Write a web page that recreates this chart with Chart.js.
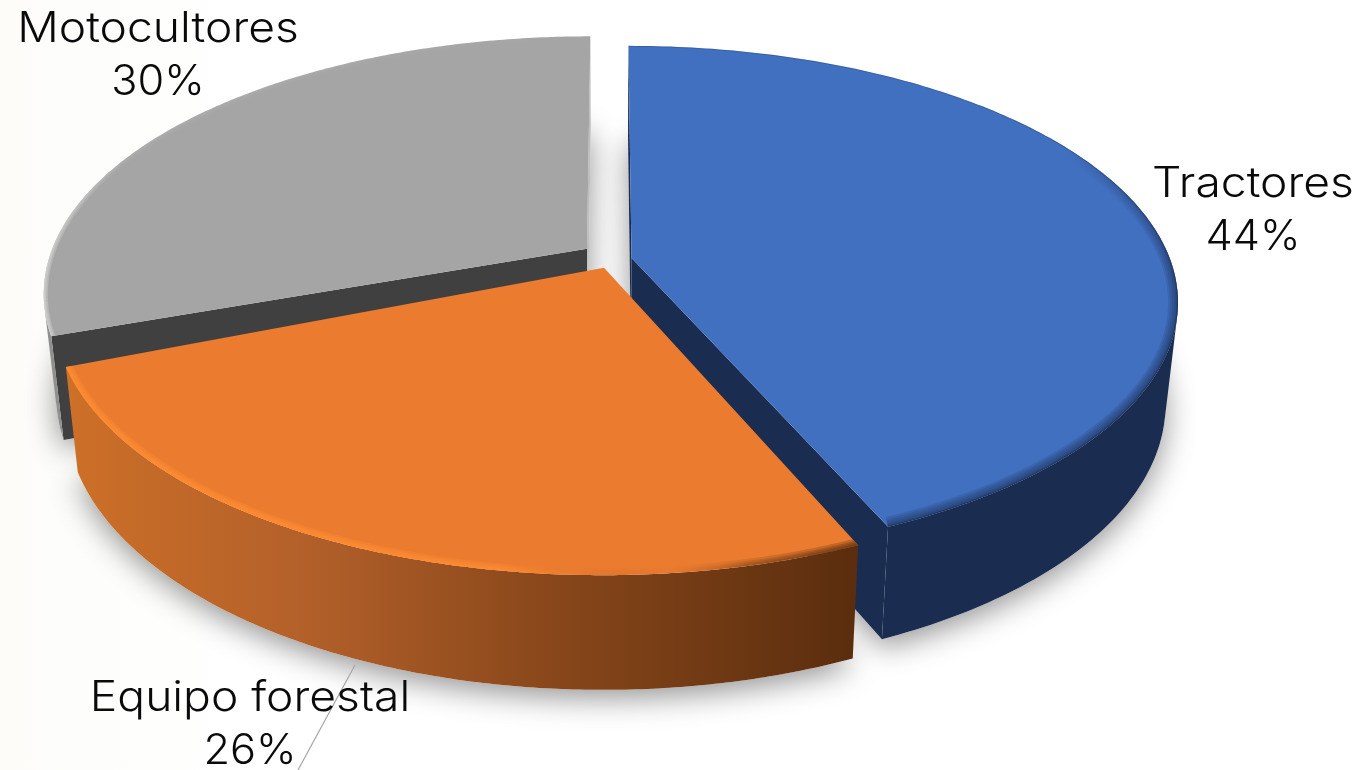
<!DOCTYPE html>
<html>
<head>
<meta charset="utf-8">
<title>Maquinaria</title>
<script src="https://cdn.jsdelivr.net/npm/chart.js@4"></script>
<style>
  html, body { margin: 0; padding: 0; background: #fff; overflow: hidden; }
  #wrap { width: 1361px; height: 770px; background: linear-gradient(90deg, #fdfcf9 0, #fdfdfb 90px, #fff 240px); }
</style>
</head>
<body>
<div id="wrap"><canvas id="pie" width="1361" height="770"></canvas></div>
<script>
var categories = ['Tractores', 'Equipo forestal', 'Motocultores'];
var shares = [43.5, 26.1, 30.4];
var topColors = ['#4170c1', '#ea7b2f', '#a5a5a5'];

// ground plane -> screen, a circle seen in perspective
var view = { ax: 610, ay: 255, rx: 537, ry: 250.5, k: 0.17, depth: 100, shrink: 0.978 };

function project(X, Z, low) {
  var w = 1 - view.k * Z;
  var s = low ? view.shrink : 1;
  return [view.ax + view.rx * s * X / w, view.ay + (view.ry * s * Z + (low ? view.depth : 0)) / w];
}

function tracePath(ctx, pts) {
  ctx.beginPath();
  pts.forEach(function(p, i) { if (i) ctx.lineTo(p[0], p[1]); else ctx.moveTo(p[0], p[1]); });
  ctx.closePath();
}

function lineGrad(ctx, v, stops) {
  var g = ctx.createLinearGradient(v[0], v[1], v[2], v[3]);
  stops.forEach(function(s) { g.addColorStop(s[0], s[1]); });
  return g;
}

function faces(a, b, c, d) {
  var q = [a, b, c, d], area = 0;
  q.forEach(function(p, h) {
    var r = q[(h + 1) % 4];
    area += p[0] * r[1] - r[0] * p[1];
  });
  return area < 0;
}

var pie3d = {
  id: 'pie3d',
  beforeDatasetDraw: function() { return false; },
  afterDatasetsDraw: function(chart, args, opts) {
    var ctx = chart.ctx;
    var arcs = chart.getDatasetMeta(0).data;
    var slices = arcs.map(function(arc, i) {
      var off = opts.explode[i], n = 180, rim = [];
      var end = arc.endAngle - opts.trim[i];
      for (var j = 0; j <= n; j++) {
        var t = arc.startAngle + (end - arc.startAngle) * j / n;
        rim.push([off[0] + Math.cos(t), off[1] + off[2] * Math.sin(t)]);
      }
      var ground = [[off[0], off[1]]].concat(rim);
      return {
        top: ground.map(function(p) { return project(p[0], p[1], false); }),
        low: ground.map(function(p) { return project(p[0], p[1], true); })
      };
    });

    // soft shadow under the whole body
    ctx.save();
    ctx.shadowColor = 'rgba(0,0,0,0.42)';
    ctx.shadowBlur = 30;
    ctx.shadowOffsetY = 8;
    ctx.fillStyle = '#fff';
    slices.forEach(function(s) { tracePath(ctx, s.low); ctx.fill(); });
    ctx.restore();

    opts.order.forEach(function(idx) {
      var s = slices[idx], pts = s.top, low = s.low, m = pts.length;
      var xs = pts.map(function(p) { return p[0]; });
      var x0 = Math.min.apply(null, xs), x1 = Math.max.apply(null, xs);

      // radial cut faces
      if (faces(pts[0], pts[1], low[1], low[0])) {
        ctx.fillStyle = opts.radialStart[idx];
        tracePath(ctx, [pts[0], pts[1], low[1], low[0]]);
        ctx.fill();
      }
      if (faces(pts[m - 1], pts[0], low[0], low[m - 1])) {
        ctx.fillStyle = opts.radialEnd[idx];
        tracePath(ctx, [pts[m - 1], pts[0], low[0], low[m - 1]]);
        ctx.fill();
      }

      // outer wall, the stretch of the rim that faces the viewer
      var upper = [], lower = [];
      for (var j = 1; j < m - 1; j++) {
        if (faces(pts[j], pts[j + 1], low[j + 1], low[j])) {
          if (!upper.length) { upper.push(pts[j]); lower.push(low[j]); }
          upper.push(pts[j + 1]);
          lower.push(low[j + 1]);
        }
      }
      if (upper.length) {
        ctx.fillStyle = lineGrad(ctx, [x0, 0, x1, 0], opts.walls[idx]);
        tracePath(ctx, upper.concat(lower.reverse()));
        ctx.fill();
      }

      // top face
      tracePath(ctx, pts);
      ctx.fillStyle = topColors[idx];
      ctx.fill();

      // bevel along the rim, several soft passes
      ctx.save();
      tracePath(ctx, pts);
      ctx.clip();
      ctx.lineCap = 'butt';
      opts.bevel[idx].forEach(function(b) {
        ctx.strokeStyle = lineGrad(ctx, b.along || [x0, 0, x1, 0], b.stops);
        b.widths.forEach(function(w) {
          ctx.lineWidth = w;
          ctx.beginPath();
          for (var j = 1; j < m; j++) {
            if (j === 1) ctx.moveTo(pts[j][0], pts[j][1]); else ctx.lineTo(pts[j][0], pts[j][1]);
          }
          ctx.stroke();
        });
      });
      ctx.restore();
    });

    // leader line and labels
    ctx.save();
    ctx.strokeStyle = '#a6a6a6';
    ctx.lineWidth = 1.2;
    ctx.beginPath();
    ctx.moveTo(opts.leader[0][0], opts.leader[0][1]);
    ctx.lineTo(opts.leader[1][0], opts.leader[1][1]);
    ctx.stroke();
    ctx.fillStyle = '#0a0a0a';
    ctx.textAlign = 'center';
    ctx.textBaseline = 'alphabetic';
    ctx.font = opts.font;
    categories.forEach(function(name, i) {
      var l = opts.labels[i];
      // Inter is narrower than the original face, so the text gets stretched
      ctx.save();
      ctx.translate(l[0], l[1]);
      ctx.scale(opts.stretch, 1);
      ctx.fillText(name, 0, 0);
      ctx.restore();
      ctx.save();
      ctx.translate(l[0], l[1] + 53);
      ctx.scale(1.03, 1);
      ctx.fillText(Math.round(shares[i]) + '%', 0, 0);
      ctx.restore();
    });
    ctx.restore();
  }
};

new Chart(document.getElementById('pie'), {
  type: 'pie',
  data: { labels: categories, datasets: [{ data: shares, backgroundColor: topColors, borderWidth: 0 }] },
  plugins: [pie3d],
  options: {
    responsive: false,
    animation: false,
    plugins: {
      legend: { display: false },
      tooltip: { enabled: false },
      pie3d: {
        explode: [[0.04, 0.012, 0.985], [-0.011, 0.05, 1], [-0.043, -0.025, 1]],
        trim: [0, 0.035, 0],
        order: [2, 0, 1],
        radialStart: ['#1a2c50', '#5c2e0e', '#404040'],
        radialEnd: ['#1a2c50', '#5c2e0e', '#bdbdbd'],
        walls: [
          [[0, '#1a2c50'], [1, '#1a2c50']],
          [[0, '#cd7028'], [0.3, '#b3602a'], [0.6, '#8a481b'], [1, '#5a2d0e']],
          [[0, '#8f8f8f'], [1, '#8f8f8f']]
        ],
        bevel: [
          [
            { along: [1040, 170, 1150, 300], widths: [20, 16, 12, 8, 5, 3], stops: [[0, 'rgba(26,44,80,0)'], [1, 'rgba(26,44,80,0.16)']] },
            { along: [1000, 100, 1150, 300], widths: [2], stops: [[0, 'rgba(26,44,80,0.25)'], [1, 'rgba(26,44,80,0.5)']] }
          ],
          [
            { widths: [14, 10, 7, 4], stops: [[0, 'rgba(255,140,50,0.42)'], [0.55, 'rgba(255,140,50,0.34)'], [0.76, 'rgba(200,100,40,0.02)'], [0.86, 'rgba(90,45,14,0.14)'], [1, 'rgba(90,45,14,0.3)']] }
          ],
          [
            { widths: [8, 5, 2], stops: [[0, 'rgba(215,215,215,0.4)'], [0.14, 'rgba(215,215,215,0.05)'], [1, 'rgba(215,215,215,0)']] }
          ]
        ],
        labels: [[1253, 197], [250, 711], [158, 42]],
        leader: [[355, 665], [298, 770]],
        font: '300 42px Inter, "Open Sans", sans-serif',
        stretch: 1.1
      }
    }
  }
});
</script>
</body>
</html>
